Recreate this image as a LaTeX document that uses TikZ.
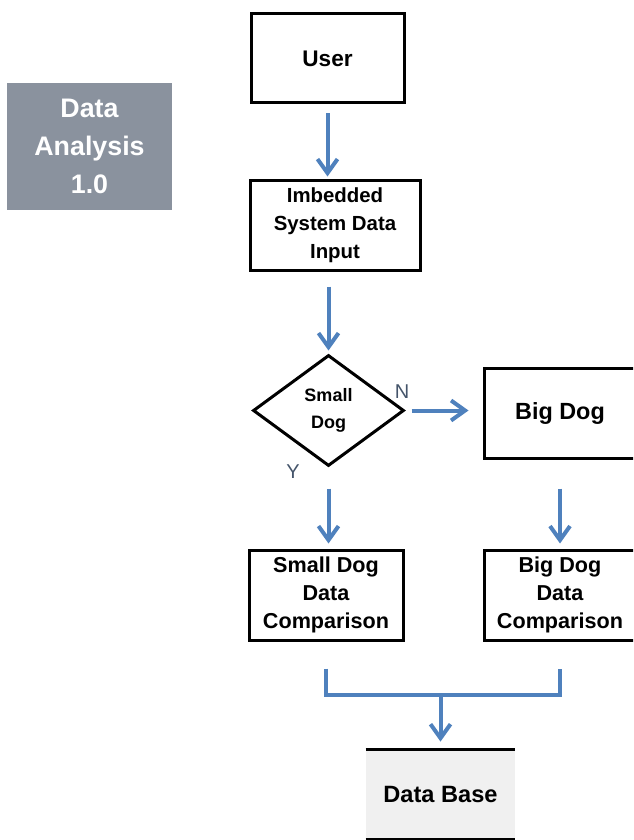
\documentclass[tikz,border=0pt]{standalone}
\usepackage{fontspec}
\setmainfont{Liberation Sans}
\usetikzlibrary{arrows.meta,positioning,shapes.geometric}
\definecolor{flowblue}{HTML}{4F81BD}
\definecolor{tagblue}{HTML}{8A929E}
\definecolor{dbgray}{HTML}{F0F0F0}
\definecolor{lblblue}{HTML}{44546A}

\begin{document}
\begin{tikzpicture}[x=0.5pt,y=-0.5pt,
    box/.style={draw,line width=1.5pt,align=center,inner sep=0pt},
    flow/.style={draw=flowblue,line width=2pt,-{Straight Barb[length=7pt,width=10pt]}},
    link/.style={draw=flowblue,line width=2pt},
    lbl/.style={text=lblblue,font=\fontsize{10}{12}\selectfont,inner sep=0pt}]
  \clip (0,0) rectangle (633,840);

  % title tag
  \node[fill=tagblue,text=white,align=center,inner sep=0pt,
        minimum width=82.5pt,minimum height=63.5pt,
        font=\fontsize{13.4}{19}\selectfont\bfseries] (tag) at (89.5,146.5) {Data\\Analysis\\1.0};

  % main column
  \node[box,minimum width=76.5pt,minimum height=44.5pt,
        font=\fontsize{11.3}{14}\selectfont\bfseries] (user) at (327.5,58.5) {User};
  \node[box,minimum width=85pt,minimum height=45pt,
        font=\fontsize{10.2}{14}\selectfont\bfseries] (input) at (335,225) {Imbedded\\System Data\\Input};
  \node[draw,diamond,line width=1.5pt,align=center,inner sep=0pt,
        minimum width=75.5pt,minimum height=55.5pt,
        font=\fontsize{9}{13.5}\selectfont\bfseries] (dec) at (328.5,410.5) {Small\\Dog};
  \node[box,minimum width=76pt,minimum height=45pt,
        font=\fontsize{11.7}{14}\selectfont\bfseries] (big) at (560,413) {Big Dog};
  \node[box,minimum width=77pt,minimum height=45pt,
        font=\fontsize{10.8}{14}\selectfont\bfseries] (cmpS) at (326,595) {Small Dog\\Data\\Comparison};
  \node[box,minimum width=76pt,minimum height=45pt,
        font=\fontsize{10.8}{14}\selectfont\bfseries] (cmpB) at (560,595) {Big Dog\\Data\\Comparison};

  % data store
  \node[fill=dbgray,inner sep=0pt,minimum width=74.5pt,minimum height=44.5pt,
        font=\fontsize{11.8}{14}\selectfont\bfseries] (db) at (440.5,794.5) {Data Base};
  \draw[line width=1.5pt] (db.north west) -- (db.north east);
  \draw[line width=1.5pt] (db.south west) -- (db.south east);

  % branch labels
  \node[lbl] (nlbl) at (402,392) {N};
  \node[lbl] (ylbl) at (293,472) {Y};

  % connectors
  \draw[flow,shorten <=4.5pt,shorten >=1pt] (user) -- (user |- input.north);
  \draw[flow,shorten <=7.5pt,shorten >=1.5pt] (dec.north |- input.south) -- (dec.north);
  \draw[flow,shorten <=3pt,shorten >=7pt] (dec.east) -- (dec.east -| big.west);
  \draw[flow,shorten <=10.5pt,shorten >=2.5pt] (dec.south) -- (dec.south |- cmpS.north);
  \draw[flow,shorten <=14.5pt,shorten >=2.5pt] (big.south) -- (big.south |- cmpB.north);

  \coordinate (jn) at (440.5,695);
  \draw[link] ([yshift=-13.5pt]cmpS.south) |- (jn) -| ([yshift=-13.5pt]cmpB.south);
  \draw[flow,shorten >=4pt] (jn) -- (jn |- db.north);
\end{tikzpicture}
\end{document}
